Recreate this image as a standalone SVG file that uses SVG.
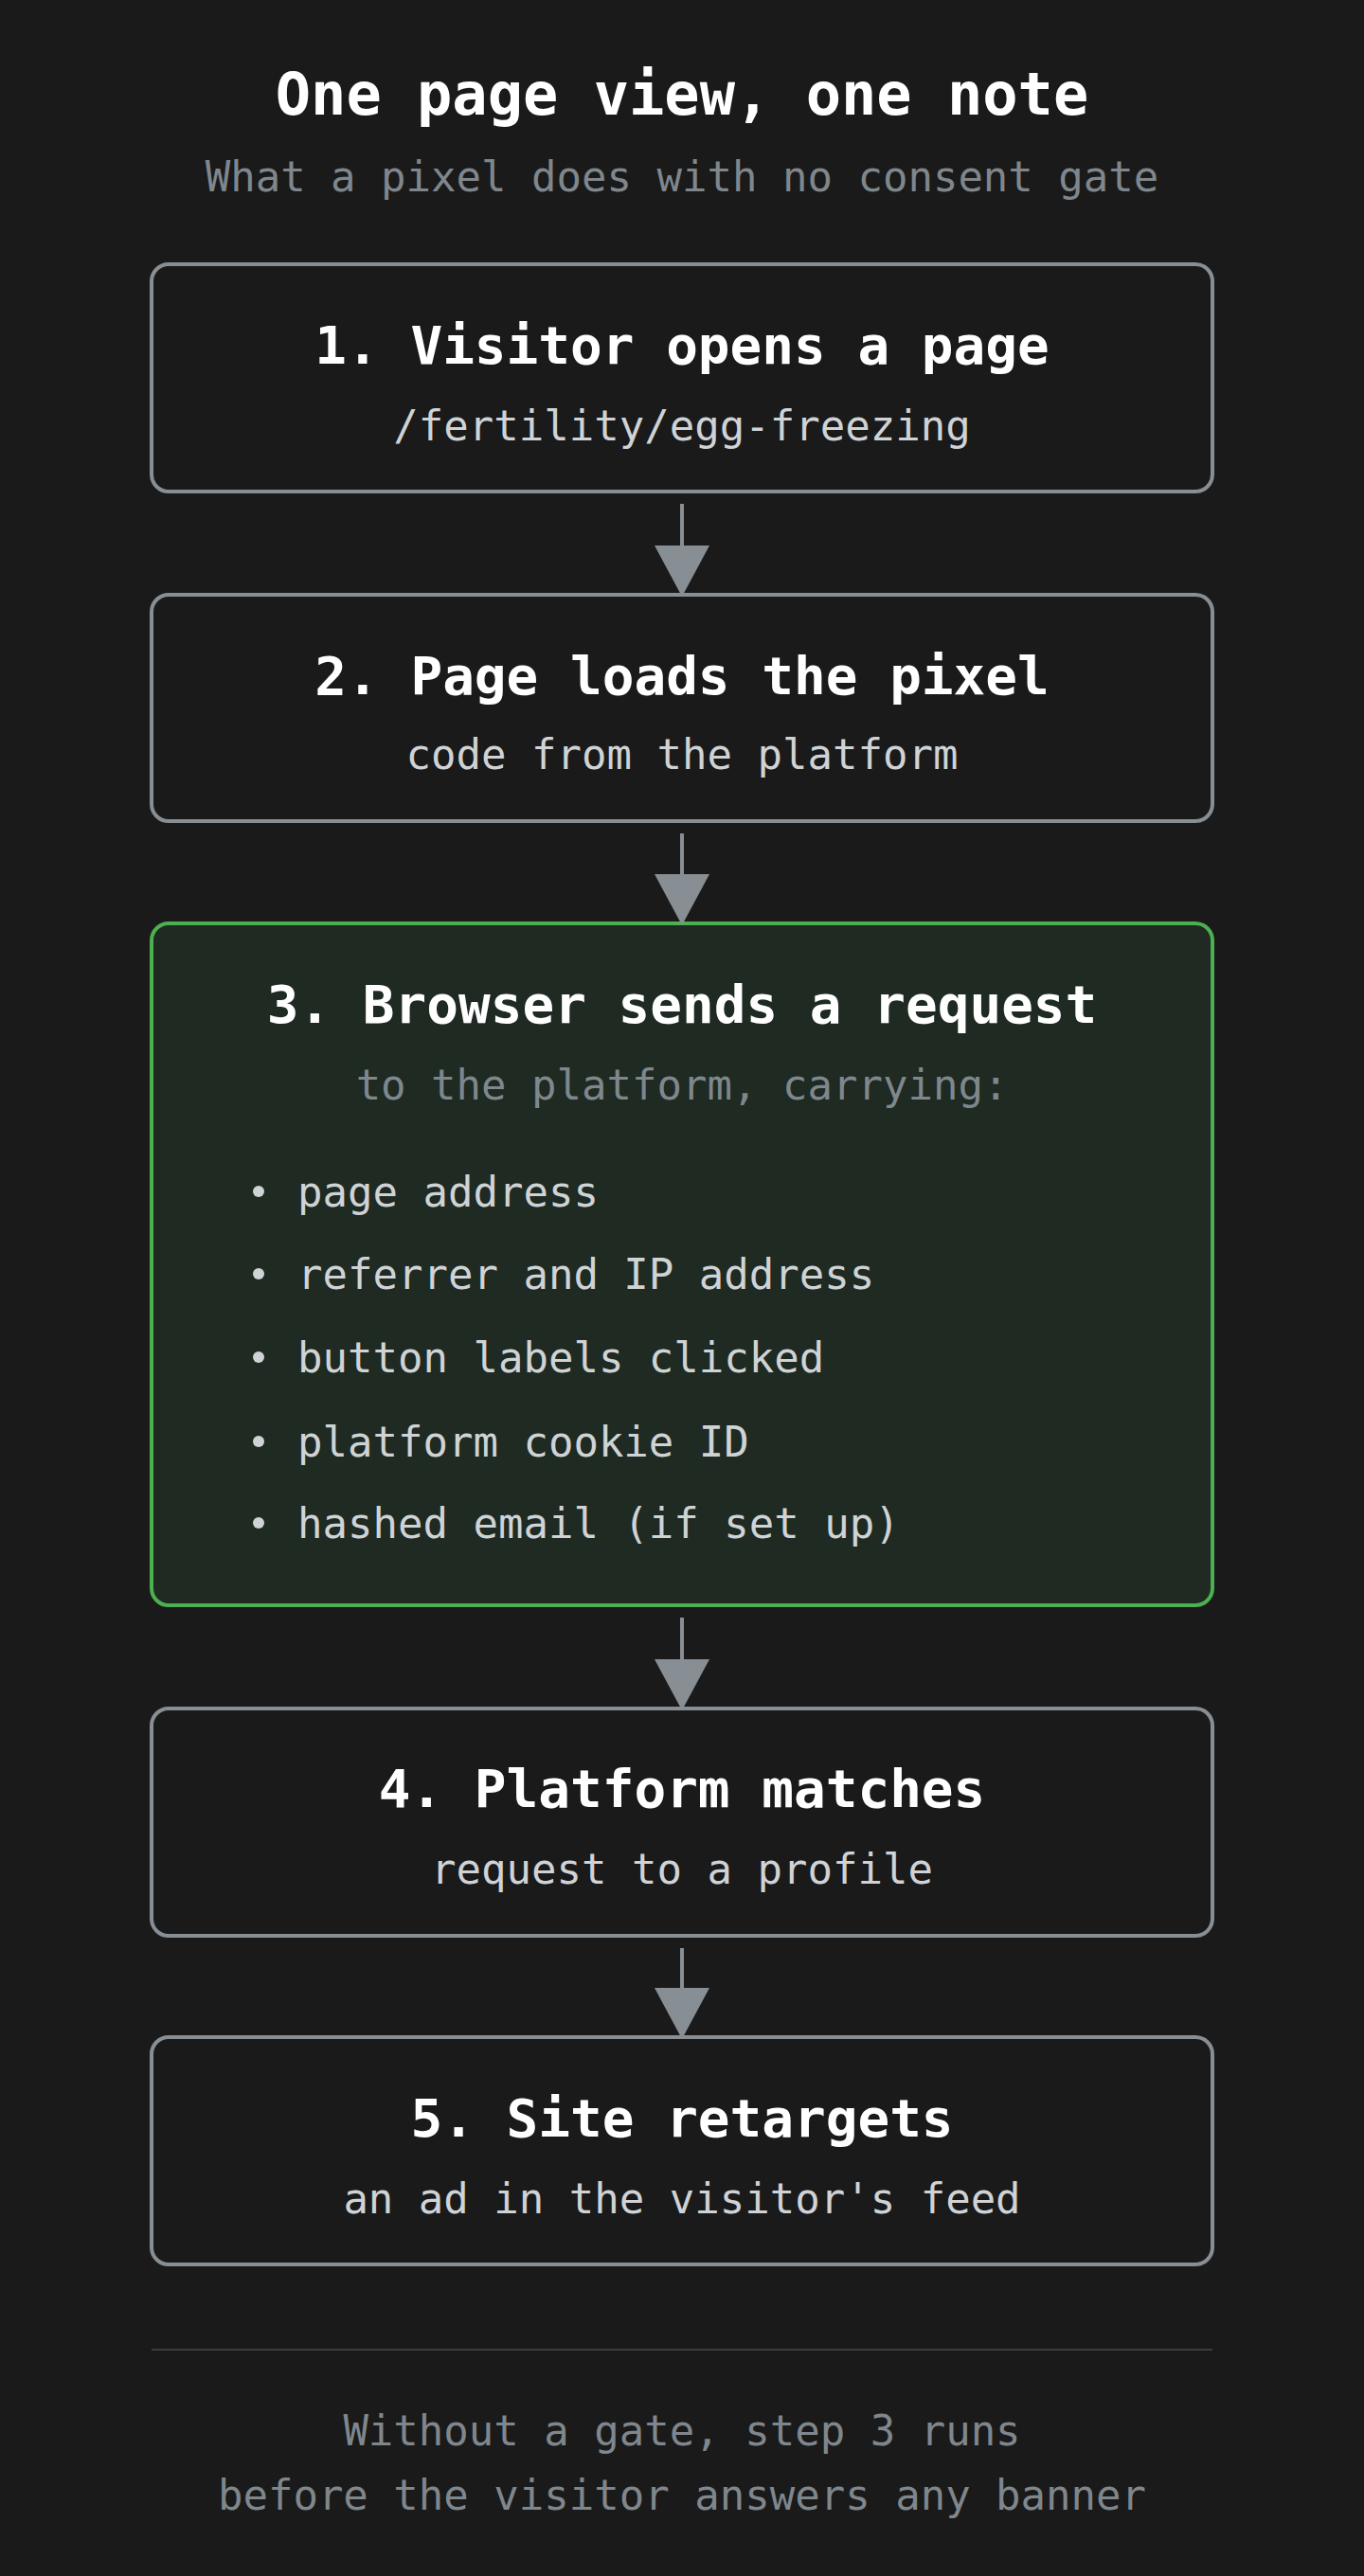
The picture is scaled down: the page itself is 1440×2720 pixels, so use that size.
<svg xmlns="http://www.w3.org/2000/svg" width="1440" height="2720" viewBox="0 0 1440 2720">
<style>
text{font-family:"DejaVu Sans Mono","Liberation Mono",monospace;text-anchor:middle;dominant-baseline:central}
.t{fill:#ffffff;font-size:56px;font-weight:bold}
.s{fill:#cfd3d6;font-size:44px}
.g{fill:#7f878d;font-size:44px}
.b{fill:#cfd3d6;font-size:44px;text-anchor:start}
.box{fill:none;stroke:#878e94;stroke-width:4}
.a{stroke:#878e94;stroke-width:4}
.h{fill:#878e94}
</style>
<rect width="1440" height="2720" fill="#1a1a1a"/>
<text x="720" y="99" class="t" style="font-size:62px">One page view, one note</text>
<text x="720" y="186" class="g">What a pixel does with no consent gate</text>
<g id="n1"><rect x="160" y="279" width="1120" height="240" rx="18" class="box"/>
<text x="720" y="364" class="t">1. Visitor opens a page</text><text x="720" y="449" class="s">/fertility/egg-freezing</text></g>
<g id="n2"><rect x="160" y="628" width="1120" height="239" rx="18" class="box"/>
<text x="720" y="713" class="t">2. Page loads the pixel</text><text x="720" y="796" class="s">code from the platform</text></g>
<g id="n3"><rect x="160" y="975" width="1120" height="720" rx="18" fill="#1e2a22" stroke="#4caf50" stroke-width="4"/>
<text x="720" y="1060" class="t">3. Browser sends a request</text><text x="720" y="1145" class="g">to the platform, carrying:</text>
<g fill="#cfd3d6"><circle cx="273" cy="1258" r="6"/><circle cx="273" cy="1345" r="6"/><circle cx="273" cy="1433" r="6"/><circle cx="273" cy="1522" r="6"/><circle cx="273" cy="1608" r="6"/></g>
<text x="314" y="1258" class="b">page address</text>
<text x="314" y="1345" class="b">referrer and IP address</text>
<text x="314" y="1433" class="b">button labels clicked</text>
<text x="314" y="1522" class="b">platform cookie ID</text>
<text x="314" y="1608" class="b">hashed email (if set up)</text></g>
<g id="n4"><rect x="160" y="1804" width="1120" height="240" rx="18" class="box"/>
<text x="720" y="1888" class="t">4. Platform matches</text><text x="720" y="1973" class="s">request to a profile</text></g>
<g id="n5"><rect x="160" y="2151" width="1120" height="240" rx="18" class="box"/>
<text x="720" y="2236" class="t">5. Site retargets</text><text x="720" y="2321" class="s">an ad in the visitor's feed</text></g>
<g id="connectors">
<line x1="720" y1="532" x2="720" y2="580" class="a"/><polygon points="691,576 749,576 720,630" class="h"/>
<line x1="720" y1="880" x2="720" y2="927" class="a"/><polygon points="691,923 749,923 720,977" class="h"/>
<line x1="720" y1="1708" x2="720" y2="1756" class="a"/><polygon points="691,1752 749,1752 720,1806" class="h"/>
<line x1="720" y1="2057" x2="720" y2="2103" class="a"/><polygon points="691,2099 749,2099 720,2153" class="h"/>
</g>
<line x1="160" y1="2481" x2="1280" y2="2481" stroke="#3a3c3e" stroke-width="2"/>
<text x="720" y="2566" class="g">Without a gate, step 3 runs</text>
<text x="720" y="2634" class="g">before the visitor answers any banner</text>
</svg>
